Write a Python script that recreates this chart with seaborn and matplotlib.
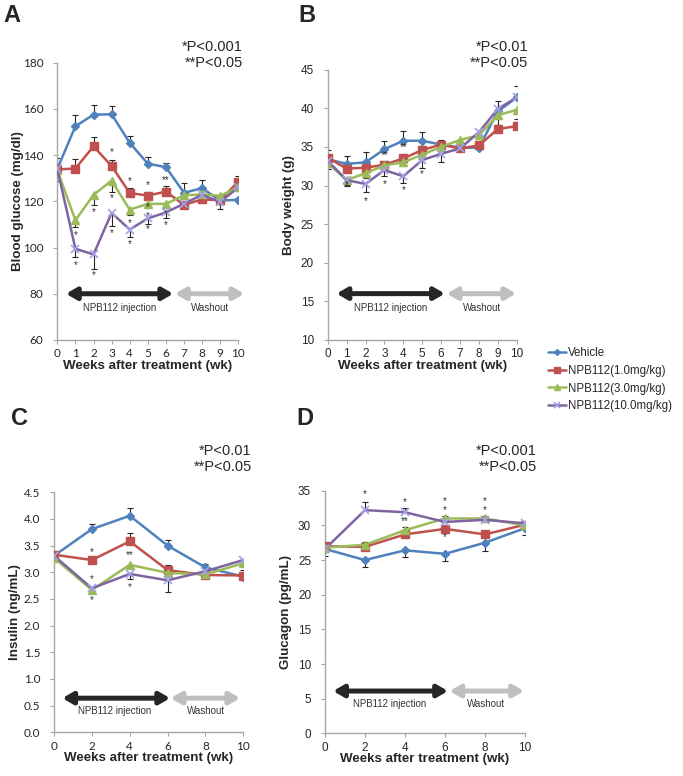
import matplotlib
matplotlib.use("Agg")
import numpy as np
import pandas as pd
import matplotlib.pyplot as plt
import seaborn as sns

sns.set_style("white")
plt.rcParams['font.family'] = ['Liberation Sans', 'DejaVu Sans']

## Series y estilos
grupos = ["Vehicle", "NPB112(1.0mg/kg)", "NPB112(3.0mg/kg)", "NPB112(10.0mg/kg)"]
colores = ["#4F81BD", "#C0504D", "#9BBB59", "#8064A2"]
marcadores = ["D", "s", "^", "x"]
tam_marcador = [4, 5.5, 6, 6]
borde_marcador = ["#4F81BD", "#C0504D", "#9BBB59", "#A3A3E6"]

## A - Blood glucose
semanas_ab = [0, 1, 2, 3, 4, 5, 6, 7, 8, 9, 10]
glucosa_vehicle = [134, 152.5, 157.5, 157.7, 145.3, 136.3, 134.8, 123.7, 125.7, 120.3, 120.7]
glucosa_npb1 = [133.8, 134.2, 143.8, 135.3, 123.6, 122.5, 124.2, 118.5, 120.8, 120.5, 128.5]
glucosa_npb3 = [133.5, 111.8, 122.8, 129.0, 116.4, 118.9, 118.9, 122.6, 123.0, 122.4, 126.0]
glucosa_npb10 = [134.0, 99.5, 97.0, 115.0, 107.8, 112.6, 115.2, 119.0, 122.8, 119.7, 126.0]
err_glucosa_vehicle = [0, 5, 4, 3.5, 3, 2.8, 2, 4.2, 3.5, 0, 0]
err_glucosa_npb1 = [5, 4, 4, 2.5, 2, 1.5, 2.3, 1.5, 1, 1, 2.6]
err_glucosa_npb3 = [0, 3, 4.5, 5, 2.5, 2, 2, 1, 1, 1, 1]
err_glucosa_npb10 = [5, 3.5, 6.5, 5.5, 3.3, 2.5, 2.5, 1.5, 1, 3, 1.5]
signo_glucosa = [1, 1, -1, -1]
asteriscos_glucosa = [(1, 105.6, "*"), (1, 92.6, "*"), (2, 115.4, "*"), (2, 88, "*"),
                      (3, 141.5, "*"), (3, 121.2, "*"), (3, 106.3, "*"),
                      (4, 128.7, "*"), (4, 110.6, "*"), (4, 101.5, "*"),
                      (5, 127.2, "*"), (5, 117.5, "*"), (5, 113.5, "*"), (5, 108, "*"),
                      (6, 129, "**"), (6, 114.7, "*"), (6, 109.6, "*")]

## B - Body weight
peso_vehicle = [33.4, 32.8, 33.0, 34.7, 35.8, 35.8, 35.3, 34.9, 34.9, 39.6, 41.4]
peso_npb1 = [33.6, 32.2, 32.3, 32.7, 33.5, 34.6, 35.3, 34.8, 35.2, 37.3, 37.7]
peso_npb3 = [32.9, 30.7, 31.6, 32.6, 33.0, 34.0, 35.0, 35.9, 36.5, 39.1, 39.8]
peso_npb10 = [33.2, 30.7, 30.2, 32.0, 31.2, 33.3, 34.1, 34.8, 36.9, 39.9, 41.4]
err_peso_vehicle = [0, 1, 1.3, 1.1, 1.3, 1.1, 0.6, 0.5, 0.5, 1.3, 1.5]
err_peso_npb1 = [1.0, 0.5, 0.5, 0.5, 0.6, 0.5, 0.4, 0.6, 0.6, 0.5, 0.5]
err_peso_npb3 = [0.8, 0.6, 0.6, 0.5, 0.5, 0.5, 0.4, 0.4, 0.4, 1.2, 1.2]
err_peso_npb10 = [1.0, 0.8, 1.1, 0.8, 0.9, 1.0, 1.0, 0.5, 0.5, 1.3, 1.5]
signo_peso = [1, 1, -1, -1]
asteriscos_peso = [(1, 30.0, "*"), (2, 28.0, "*"), (3, 33.9, "**"), (3, 30.2, "*"),
                   (4, 35.0, "**"), (4, 29.4, "*"), (5, 31.5, "*")]

## C - Insulin
semanas_cd = [0, 2, 4, 6, 8, 10]
insulina_vehicle = [3.31, 3.81, 4.06, 3.50, 3.09, 2.92]
insulina_npb1 = [3.33, 3.23, 3.58, 3.04, 2.95, 2.94]
insulina_npb3 = [3.27, 2.67, 3.14, 2.99, 2.96, 3.17]
insulina_npb10 = [3.31, 2.70, 2.97, 2.85, 3.02, 3.23]
err_insulina_vehicle = [0.05, 0.09, 0.14, 0.10, 0.07, 0.04]
err_insulina_npb1 = [0.05, 0.05, 0.15, 0.09, 0.04, 0.10]
err_insulina_npb3 = [0.05, 0.05, 0.06, 0.05, 0.04, 0.04]
err_insulina_npb10 = [0.05, 0.05, 0.10, 0.22, 0.05, 0.05]
signo_insulina = [1, 1, -1, -1]
asteriscos_insulina = [(2, 3.37, "*"), (2, 2.87, "*"), (2, 2.48, "*"),
                       (4, 3.33, "**"), (4, 2.73, "*")]

## D - Glucagon
glucagon_vehicle = [26.6, 25.0, 26.4, 25.9, 27.5, 29.6]
glucagon_npb1 = [27.0, 26.9, 28.7, 29.5, 28.7, 30.1]
glucagon_npb3 = [26.8, 27.2, 29.3, 31.0, 31.0, 30.0]
glucagon_npb10 = [26.6, 32.2, 31.9, 30.5, 30.8, 30.3]
err_glucagon_vehicle = [1.0, 1.0, 1.0, 1.0, 1.2, 1.0]
err_glucagon_npb1 = [0.3, 0.3, 0.3, 0.3, 0.3, 0.3]
err_glucagon_npb3 = [0.3, 0.4, 0.4, 0.3, 0.3, 0.3]
err_glucagon_npb10 = [0.3, 1.2, 0.6, 0.5, 0.4, 0.3]
signo_glucagon = [-1, 1, 1, 1]
asteriscos_glucagon = [(2, 34.5, "*"), (4, 33.4, "*"), (4, 30.6, "**"),
                       (6, 33.5, "*"), (6, 32.2, "*"), (6, 28.3, "*"),
                       (8, 33.5, "*"), (8, 32.2, "*")]


def panel(ax, semanas, series, errores, signos, asteriscos, yticks, ylim, ylabel,
          flechas, fmt="{:g}", font_ticks="Liberation Sans"):
    for i, (vals, err, s) in enumerate(zip(series, errores, signos)):
        # barras de error de un solo lado (estilo Excel)
        x = np.array(semanas, dtype=float)
        y = np.array(vals, dtype=float)
        e = np.array(err, dtype=float)
        m = e > 0
        ax.vlines(x[m], y[m], y[m] + s * e[m], color="#262626", lw=0.8, zorder=2)
        ax.plot(x[m], y[m] + s * e[m], ls="none", marker="_", ms=4, mew=0.8,
                color="#262626", zorder=2)
    for i, vals in enumerate(series):
        sns.lineplot(x=semanas, y=vals, ax=ax, color=colores[i], lw=1.8,
                     marker=marcadores[i], markersize=tam_marcador[i],
                     markeredgecolor=borde_marcador[i], markerfacecolor=colores[i],
                     markeredgewidth=1.0 if marcadores[i] != "x" else 1.2,
                     label=grupos[i], legend=False, zorder=3 + i)
    for (w, yv, t) in asteriscos:
        ax.text(w, yv, t, ha="center", va="center", fontsize=7, color="#333333", zorder=10)

    # flechas NPB112 injection / Washout
    y_fl, negro, gris, y_txt, x_txt1, x_txt2 = flechas
    ax.annotate("", xy=(negro[1], y_fl), xytext=(negro[0], y_fl), annotation_clip=False,
                arrowprops=dict(arrowstyle="<|-|>,head_length=0.6,head_width=0.35", lw=3.6,
                                color="#262626", shrinkA=0, shrinkB=0))
    ax.annotate("", xy=(gris[1], y_fl), xytext=(gris[0], y_fl), annotation_clip=False,
                arrowprops=dict(arrowstyle="<|-|>,head_length=0.6,head_width=0.35", lw=3.6,
                                color="#BFBFBF", shrinkA=0, shrinkB=0))
    ax.text(x_txt1, y_txt, "NPB112 injection", ha="center", va="center", fontsize=7, color="#333333")
    ax.text(x_txt2, y_txt, "Washout", ha="center", va="center", fontsize=7, color="#333333")

    ax.set_xlim(0, 10)
    ax.set_ylim(*ylim)
    ax.set_xticks(semanas)
    ax.set_yticks(yticks)
    ax.set_yticklabels([fmt.format(v) for v in yticks], fontsize=8.5, family=font_ticks)
    ax.set_xticklabels([str(v) for v in semanas], fontsize=8.5, family=font_ticks)
    for lado in ["top", "right"]:
        ax.spines[lado].set_visible(False)
    for lado in ["left", "bottom"]:
        ax.spines[lado].set_color("#A6A6A6")
        ax.spines[lado].set_linewidth(1.0)
    ax.tick_params(axis="both", direction="out", length=3, width=0.8, color="#A6A6A6",
                   left=True, bottom=True, labelcolor="#262626")
    ax.tick_params(axis="y", pad=7)
    ax.tick_params(axis="x", pad=3)
    ax.set_xlabel("Weeks after treatment (wk)", fontsize=9.6, fontweight="bold")
    ax.set_ylabel(ylabel, fontsize=9.6, fontweight="bold")


fig = plt.figure(figsize=(6.83, 7.76), dpi=100)
axA = fig.add_axes([0.0839, 0.5619, 0.2650, 0.3573])
axB = fig.add_axes([0.4798, 0.5619, 0.2767, 0.3483])
axC = fig.add_axes([0.0791, 0.0563, 0.2772, 0.3093])
axD = fig.add_axes([0.4758, 0.0550, 0.2928, 0.3126])

panel(axA, semanas_ab, [glucosa_vehicle, glucosa_npb1, glucosa_npb3, glucosa_npb10],
      [err_glucosa_vehicle, err_glucosa_npb1, err_glucosa_npb3, err_glucosa_npb10],
      signo_glucosa, asteriscos_glucosa, list(range(60, 181, 20)), (60, 180),
      "Blood glucose (mg/dl)", (80, (0.48, 6.4), (6.5, 10.33), 73.7, 3.46, 8.43),
      font_ticks="Lato")
panel(axB, semanas_ab, [peso_vehicle, peso_npb1, peso_npb3, peso_npb10],
      [err_peso_vehicle, err_peso_npb1, err_peso_npb3, err_peso_npb10],
      signo_peso, asteriscos_peso, list(range(10, 46, 5)), (10, 45),
      "Body weight (g)", (16.0, (0.47, 6.2), (6.3, 9.97), 14.2, 3.33, 8.15))
panel(axC, semanas_cd, [insulina_vehicle, insulina_npb1, insulina_npb3, insulina_npb10],
      [err_insulina_vehicle, err_insulina_npb1, err_insulina_npb3, err_insulina_npb10],
      signo_insulina, asteriscos_insulina, [i * 0.5 for i in range(10)], (0, 4.5),
      "Insulin (ng/mL)", (0.64, (0.44, 6.13), (6.16, 9.83), 0.40, 3.22, 8.03),
      fmt="{:.1f}", font_ticks="Lato")
panel(axD, semanas_cd, [glucagon_vehicle, glucagon_npb1, glucagon_npb3, glucagon_npb10],
      [err_glucagon_vehicle, err_glucagon_npb1, err_glucagon_npb3, err_glucagon_npb10],
      signo_glucagon, asteriscos_glucagon, list(range(0, 36, 5)), (0, 35),
      "Glucagon (pg/mL)", (6.1, (0.41, 6.15), (6.23, 9.95), 4.3, 3.25, 8.07))

# posicion de las etiquetas de los ejes
for ax, w, h in [(axA, 181, 277), (axB, 189, 270), (axC, 189, 240), (axD, 200, 243)]:
    ax.yaxis.set_label_coords(-33 / w, 0.5)
    ax.xaxis.set_label_coords(0.5, -20 / h)

# letras de panel
W, H = 683, 776
for letra, x, y in [("A", 3, 4), ("B", 298, 4), ("C", 11, 407), ("D", 296, 407)]:
    fig.text(x / W, 1 - y / H, letra, fontsize=17, fontweight="bold", va="top", ha="left")

# p-valores
for x, y, t1 in [(242.7, 46.7, "*P<0.001"), (528.3, 46.7, "*P<0.01"),
                 (251.7, 450.7, "*P<0.01"), (536.7, 450.7, "*P<0.001")]:
    fig.text(x / W, 1 - y / H, t1, fontsize=10.5, ha="right", va="center")
    fig.text(x / W, 1 - (y + 16) / H, "**P<0.05", fontsize=10.5, ha="right", va="center")

# leyenda
handles = axA.lines[-4:]
fig.legend(handles, grupos, loc="upper left", bbox_to_anchor=(548 / W, 1 - 347 / H),
           frameon=False, fontsize=8.3, handlelength=1.6, handletextpad=0.15,
           labelspacing=0.5, borderaxespad=0, borderpad=0, markerscale=0.75)

fig.savefig("out.png", dpi=100)
